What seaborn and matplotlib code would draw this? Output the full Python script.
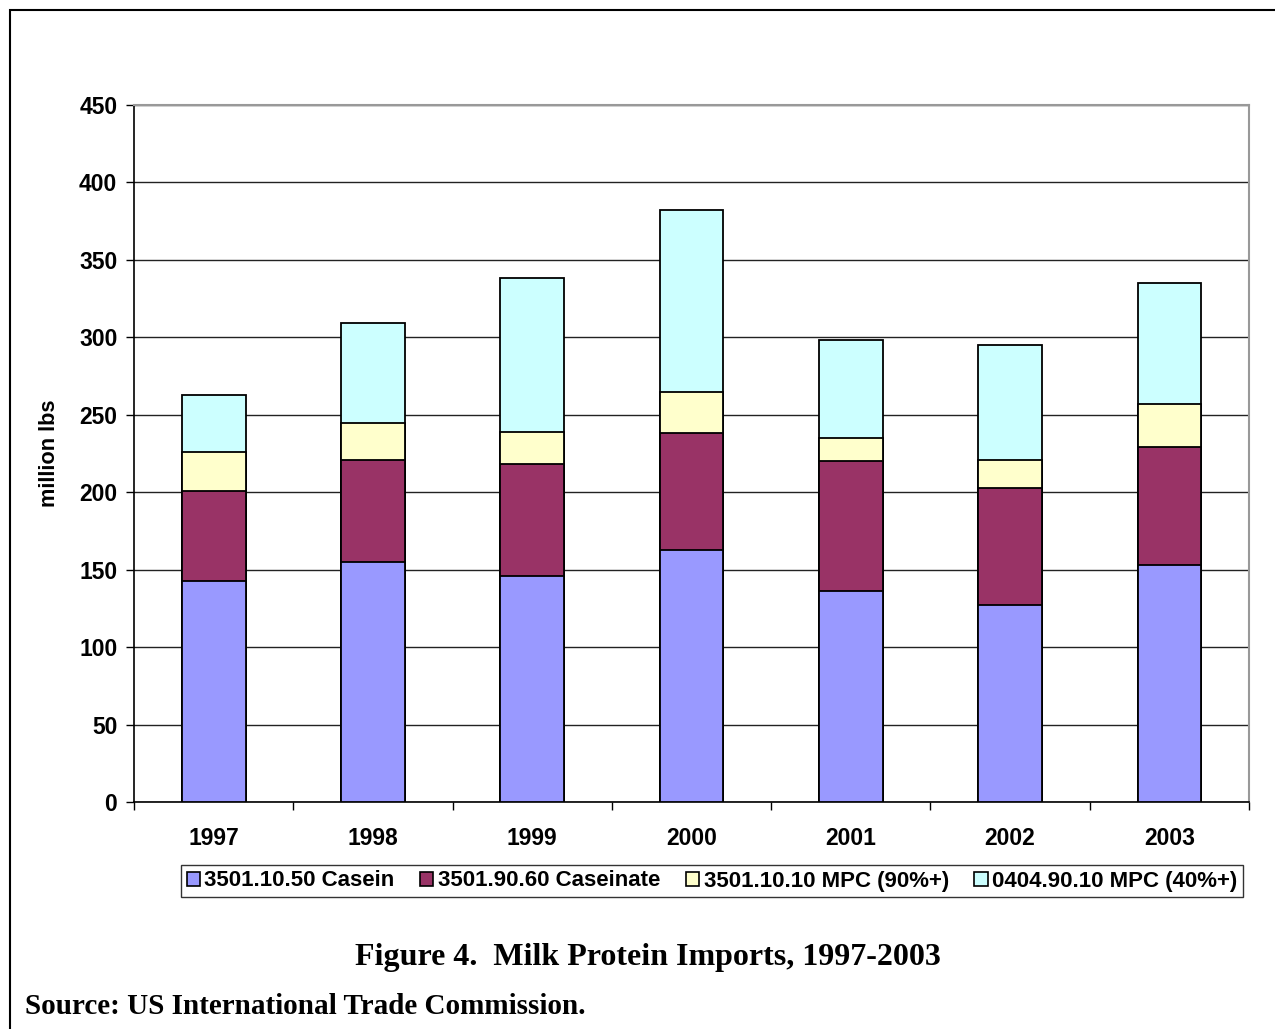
import matplotlib
matplotlib.use("Agg")
import matplotlib.pyplot as plt
import seaborn as sns
import numpy as np
import pandas as pd
from matplotlib.patches import Patch, Rectangle

years = ["1997", "1998", "1999", "2000", "2001", "2002", "2003"]
casein = [143, 155, 146, 163, 136, 127, 153]
caseinate = [58, 66, 72, 75, 84, 76, 76]
mpc90 = [25, 24, 21, 27, 15, 18, 28]
mpc40 = [37, 64, 99, 117, 63, 74, 78]
series_names = ["3501.10.50 Casein", "3501.90.60 Caseinate",
                "3501.10.10 MPC (90%+)", "0404.90.10 MPC (40%+)"]
colors = ["#9999FF", "#993366", "#FFFFCC", "#CCFFFF"]
yticks = [0, 50, 100, 150, 200, 250, 300, 350, 400, 450]

sns.set_theme(style="white")
plt.rcParams['font.family'] = ['Liberation Sans', 'DejaVu Sans']
plt.rcParams['text.color'] = 'black'
plt.rcParams['axes.labelcolor'] = 'black'
plt.rcParams['xtick.color'] = 'black'
plt.rcParams['ytick.color'] = 'black'

fig = plt.figure(figsize=(12.75, 10.29), dpi=100)
ax = fig.add_axes([134/1275, 1-802/1029, (1249-134)/1275, (802-105)/1029])

layers = [casein, caseinate, mpc90, mpc40]
cum = np.cumsum(np.array(layers), axis=0)
df = pd.DataFrame({"year": years})
for i in range(3, -1, -1):
    df["v"] = cum[i]
    sns.barplot(data=df, x="year", y="v", color=colors[i], saturation=1,
                width=0.4, edgecolor="black", linewidth=1.3, errorbar=None,
                ax=ax, zorder=3)

ax.set_xlim(-0.5, 6.5)
ax.set_ylim(0, 450)
ax.set_yticks(yticks)
ax.set_yticklabels([str(t) for t in yticks], fontsize=16.5, fontweight="bold")
ax.set_xticks(range(len(years)))
ax.set_xticklabels(years, fontsize=16.5, fontweight="bold")
ax.set_xticks(np.arange(-0.5, 7, 1), minor=True)
ax.tick_params(axis="x", which="major", length=0, pad=18)
ax.tick_params(axis="x", which="minor", length=6, width=1, color="black", direction="out", bottom=True)
ax.tick_params(axis="y", which="major", length=6, width=1, color="black", direction="out", left=True, pad=6)
ax.set_xlabel("")
ax.set_ylabel("million lbs", fontsize=15.7, fontweight="bold", labelpad=14)
ax.yaxis.grid(True, color="#222222", linewidth=1)
ax.set_axisbelow(True)
for s in ["left", "bottom"]:
    ax.spines[s].set_color("black")
    ax.spines[s].set_linewidth(1.2)
for s in ["top", "right"]:
    ax.spines[s].set_color("#999999")
    ax.spines[s].set_linewidth(1.5)

handles = [Patch(facecolor=c, edgecolor="black", linewidth=1.2) for c in colors]
leg = fig.legend(handles, series_names, loc="center",
                 bbox_to_anchor=(712/1275, 1-881/1029), ncol=4,
                 frameon=True, fancybox=False, edgecolor="black",
                 prop={"family": "Liberation Sans", "weight": "bold", "size": 16},
                 handlelength=0.6, handleheight=0.6, handletextpad=0.2,
                 columnspacing=1.15, borderpad=0.25, borderaxespad=0)
leg.get_frame().set_linewidth(1.0)

fig.text(648/1275, 1-957/1029, "Figure 4.  Milk Protein Imports, 1997-2003",
         ha="center", va="center", fontsize=23, fontweight="bold",
         family="Liberation Serif")
fig.text(25/1275, 1-1006/1029, "Source: US International Trade Commission.",
         ha="left", va="center", fontsize=21, fontweight="bold",
         family="Liberation Serif")

fig.patches.append(Rectangle((10/1275, -0.01), 1.2, 1 - 10/1029 + 0.01,
                             transform=fig.transFigure, fill=False,
                             edgecolor="black", linewidth=1.5))

fig.savefig("out.png", dpi=100)
